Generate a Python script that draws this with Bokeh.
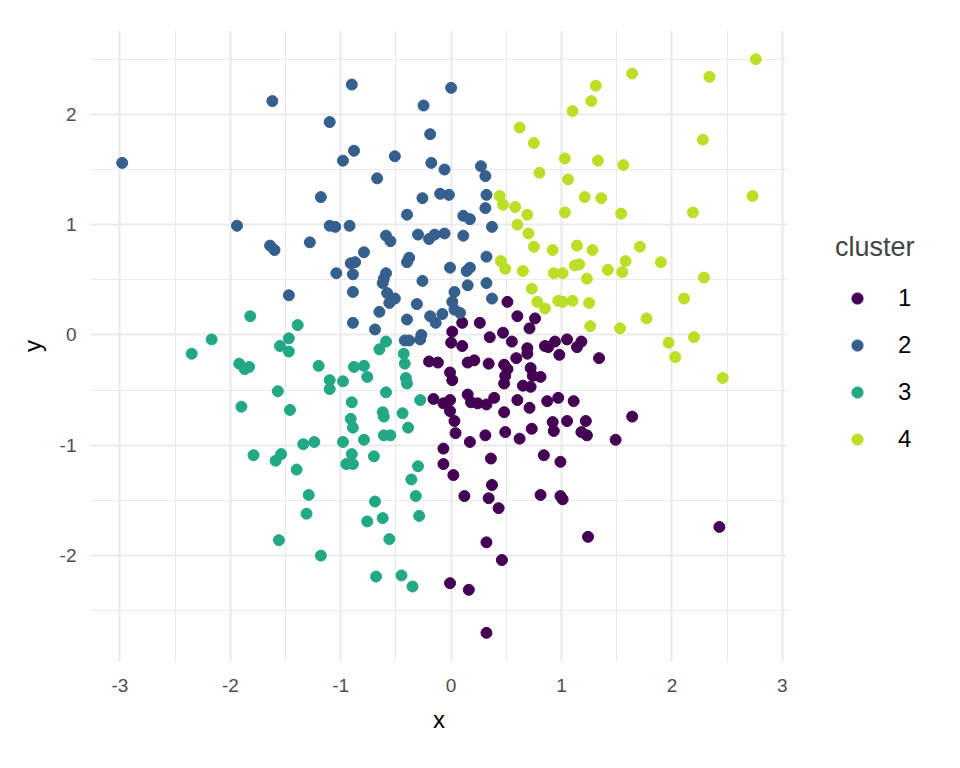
from bokeh.plotting import figure
from bokeh.layouts import row
from bokeh.models import Legend, LegendItem, SingleIntervalTicker, Range1d, CustomJSTickFormatter
from bokeh.embed import file_html
from bokeh.resources import INLINE

clusters = ["1", "2", "3", "4"]
colors = ["#440154", "#355F8D", "#22A884", "#BBDF27"]

x1 = [0.51, 0.60, 0.76, 0.71, 0.10, 0.26, 0.01, 0.00, 0.10, 0.35,
      0.47, 0.55, 0.69, 0.69, 0.85, 0.88, 0.94, 0.98, 0.59, -0.20,
      -0.12, 0.15, 0.21, 0.34, 0.48, 0.51, 0.49, -0.01, 0.01, 0.72,
      0.74, 0.81, 0.48, 0.65, 0.72, -0.16, -0.07, -0.01, 0.15, 0.18,
      0.24, 0.32, 0.39, -0.01, 0.03, 0.48, 0.60, 0.71, 0.87, 0.97,
      0.92, 0.93, 0.73, 0.49, 0.62, 0.31, 0.04, 0.17, -0.07, 1.05,
      1.18, 1.14, 1.34, 1.11, 1.05, 1.22, 1.18, 1.23, 1.64, 1.49,
      -0.07, 0.02, 0.36, 0.37, 0.12, 0.34, 0.43, 0.32, 0.46, -0.01,
      0.16, 0.32, 0.84, 0.99, 0.81, 0.99, 1.01, 1.24, 2.43]
y1 = [0.30, 0.17, 0.15, 0.06, 0.11, 0.11, 0.03, -0.07, -0.10, -0.02,
      0.02, -0.06, -0.12, -0.17, -0.10, -0.11, -0.06, -0.18, -0.21, -0.24,
      -0.25, -0.25, -0.23, -0.26, -0.27, -0.31, -0.37, -0.34, -0.41, -0.30,
      -0.37, -0.38, -0.44, -0.46, -0.47, -0.58, -0.62, -0.59, -0.54, -0.61,
      -0.62, -0.63, -0.57, -0.69, -0.78, -0.70, -0.59, -0.66, -0.60, -0.57,
      -0.79, -0.87, -0.85, -0.88, -0.94, -0.91, -0.89, -0.97, -1.03, -0.04,
      -0.06, -0.11, -0.21, -0.60, -0.78, -0.78, -0.88, -0.91, -0.74, -0.95,
      -1.17, -1.27, -1.12, -1.36, -1.46, -1.48, -1.57, -1.88, -2.04, -2.25,
      -2.31, -2.70, -1.09, -1.15, -1.45, -1.46, -1.49, -1.83, -1.74]

x2 = [-1.62, -2.98, -1.18, -1.94, -1.28, -1.64, -1.10, -1.10, -1.05, -1.60,
      -0.90, 0.00, -0.25, -0.19, -0.88, -0.98, -0.51, -0.18, -0.06, -0.67,
      0.27, 0.31, -0.26, -0.10, -0.02, 0.32, -0.40, 0.11, 0.17, 0.31,
      0.37, -0.92, -0.59, -0.55, -0.30, -0.20, -0.15, -0.06, 0.11, -0.79,
      -0.91, -0.87, -1.04, -0.89, -0.38, -0.40, -0.01, 0.14, 0.17, 0.32,
      -0.59, -0.61, -0.62, -0.26, 0.15, 0.32, -0.89, -0.58, -0.51, -0.56,
      -0.65, -0.31, 0.03, 0.01, 0.03, 0.08, 0.37, -0.40, -0.19, -0.14,
      -0.08, -0.89, -0.69, -0.42, -0.38, -0.27, -0.28, -1.47]
y2 = [2.12, 1.56, 1.25, 0.99, 0.84, 0.81, 1.93, 0.99, 0.98, 0.77,
      2.27, 2.24, 2.08, 1.82, 1.67, 1.58, 1.62, 1.56, 1.50, 1.42,
      1.53, 1.44, 1.24, 1.28, 1.27, 1.27, 1.09, 1.08, 1.05, 1.15,
      0.98, 0.99, 0.90, 0.85, 0.91, 0.87, 0.91, 0.92, 0.90, 0.75,
      0.65, 0.66, 0.56, 0.55, 0.70, 0.66, 0.61, 0.58, 0.61, 0.71,
      0.56, 0.51, 0.47, 0.49, 0.45, 0.47, 0.39, 0.38, 0.33, 0.29,
      0.21, 0.28, 0.39, 0.30, 0.23, 0.20, 0.33, 0.14, 0.17, 0.11,
      0.19, 0.11, 0.05, -0.05, -0.05, 0.00, -0.04, 0.36]

x3 = [-1.82, -1.39, -2.17, -2.35, -1.47, -1.55, -1.47, -1.92, -1.87, -1.83,
      -1.20, -1.10, -1.10, -1.57, -1.90, -1.46, -1.34, -1.24, -0.59, -0.65,
      -0.43, -0.42, -0.88, -0.79, -0.76, -0.98, -0.41, -0.40, -0.59, -0.28,
      -0.90, -0.62, -0.61, -0.44, -0.91, -0.89, -0.39, -0.98, -0.79, -0.61,
      -0.55, -0.90, -0.95, -0.89, -0.70, -0.30, -0.36, -0.32, -0.69, -0.76,
      -0.62, -0.29, -0.56, -0.68, -0.45, -0.35, -1.79, -1.59, -1.54, -1.40,
      -1.29, -1.31, -1.56, -1.18]
y3 = [0.17, 0.09, -0.04, -0.17, -0.03, -0.10, -0.15, -0.26, -0.31, -0.29,
      -0.28, -0.41, -0.49, -0.51, -0.65, -0.68, -0.99, -0.97, -0.06, -0.13,
      -0.17, -0.26, -0.29, -0.28, -0.38, -0.42, -0.39, -0.44, -0.52, -0.59,
      -0.61, -0.70, -0.74, -0.71, -0.76, -0.84, -0.84, -0.97, -0.95, -0.91,
      -0.91, -1.08, -1.17, -1.17, -1.10, -1.19, -1.31, -1.46, -1.51, -1.69,
      -1.66, -1.64, -1.85, -2.19, -2.18, -2.28, -1.09, -1.14, -1.08, -1.22,
      -1.45, -1.62, -1.86, -2.00]

x4 = [0.62, 0.75, 0.80, 0.44, 0.47, 0.58, 0.69, 0.60, 0.70, 0.75,
      0.92, 2.76, 1.64, 2.34, 1.31, 1.27, 1.10, 2.28, 1.03, 1.33,
      1.56, 1.06, 1.21, 1.36, 2.73, 1.03, 1.54, 2.19, 1.14, 1.28,
      1.71, 1.58, 1.90, 1.12, 1.16, 1.42, 1.55, 1.01, 1.23, 2.29,
      1.01, 1.10, 1.25, 2.11, 1.77, 1.26, 1.53, 1.97, 2.20, 2.03,
      2.46, 0.45, 0.49, 0.65, 0.93, 0.73, 0.78, 0.85, 0.97]
y4 = [1.88, 1.74, 1.47, 1.26, 1.18, 1.16, 1.09, 1.00, 0.92, 0.80,
      0.77, 2.50, 2.37, 2.34, 2.26, 2.12, 2.03, 1.77, 1.60, 1.58,
      1.54, 1.41, 1.25, 1.24, 1.26, 1.11, 1.10, 1.11, 0.81, 0.77,
      0.80, 0.67, 0.66, 0.63, 0.64, 0.59, 0.57, 0.56, 0.51, 0.52,
      0.30, 0.31, 0.29, 0.33, 0.15, 0.08, 0.06, -0.07, -0.02, -0.20,
      -0.39, 0.67, 0.60, 0.58, 0.56, 0.42, 0.30, 0.24, 0.31]

xs = [x1, x2, x3, x4]
ys = [y1, y2, y3, y4]

# ggplot-like 5% expansion of the data range
all_x = x1 + x2 + x3 + x4
all_y = y1 + y2 + y3 + y4
dx = (max(all_x) - min(all_x)) * 0.05
dy = (max(all_y) - min(all_y)) * 0.05

FONT = "Liberation Sans"

p = figure(width=787, height=752,
           x_range=Range1d(min(all_x) - dx, max(all_x) + dx),
           y_range=Range1d(min(all_y) - dy, max(all_y) + dy),
           output_backend="svg", toolbar_location=None,
           min_border_left=90, min_border_right=0,
           min_border_top=30, min_border_bottom=91)
p.outline_line_color = None
p.background_fill_color = "white"

for ax in (p.xaxis, p.yaxis):
    ax.ticker = SingleIntervalTicker(interval=1, num_minor_ticks=2)
    ax.formatter = CustomJSTickFormatter(code="return tick.toString()")
    ax.axis_line_color = None
    ax.major_tick_line_color = None
    ax.minor_tick_line_color = None
    ax.major_tick_out = 0
    ax.major_tick_in = 0
    ax.minor_tick_out = 0
    ax.major_label_text_font = FONT
    ax.major_label_text_font_size = "19px"
    ax.major_label_text_color = "#4D4D4D"
    ax.axis_label_text_font = FONT
    ax.axis_label_text_font_size = "24px"
    ax.axis_label_text_font_style = "normal"
    ax.axis_label_text_color = "black"

p.xaxis.axis_label = "x"
p.yaxis.axis_label = "y"
p.xaxis.major_label_standoff = 17
p.xaxis.axis_label_standoff = 11
p.yaxis.major_label_standoff = 14
p.yaxis.axis_label_standoff = 11

for g in (p.xgrid, p.ygrid):
    g.grid_line_color = "#EBEBEB"
    g.grid_line_width = 2.2
    g.minor_grid_line_color = "#EBEBEB"
    g.minor_grid_line_width = 1.1

for col, xv, yv in zip(colors, xs, ys):
    p.scatter(xv, yv, size=11, fill_color=col, line_color=col)

# the legend lives in its own narrow figure to the right of the panel;
# its ranges are far from the data, so the renderers only feed the swatches
lg = figure(width=157, height=752, x_range=Range1d(100, 101), y_range=Range1d(100, 101),
            output_backend="svg", toolbar_location=None,
            min_border=0, x_axis_type=None, y_axis_type=None)
lg.outline_line_color = None
lg.xgrid.visible = False
lg.ygrid.visible = False

items = []
for c, col, xv, yv in zip(clusters, colors, xs, ys):
    r = lg.scatter(xv, yv, size=11, fill_color=col, line_color=col)
    items.append(LegendItem(label=c, renderers=[r]))

legend = Legend(items=items, title="cluster", location=(48, 208))
legend.title_text_font = FONT
legend.title_text_font_size = "27px"
legend.title_text_font_style = "normal"
legend.title_standoff = 21
legend.label_text_font = FONT
legend.label_text_font_size = "24px"
legend.label_text_color = "black"
legend.glyph_width = 44
legend.glyph_height = 28
legend.label_height = 28
legend.spacing = 19
legend.label_standoff = 19
legend.padding = 0
legend.margin = 0
legend.border_line_color = None
legend.background_fill_alpha = 0
lg.add_layout(legend)

open("out.html", "w").write(file_html(row(p, lg), INLINE))
